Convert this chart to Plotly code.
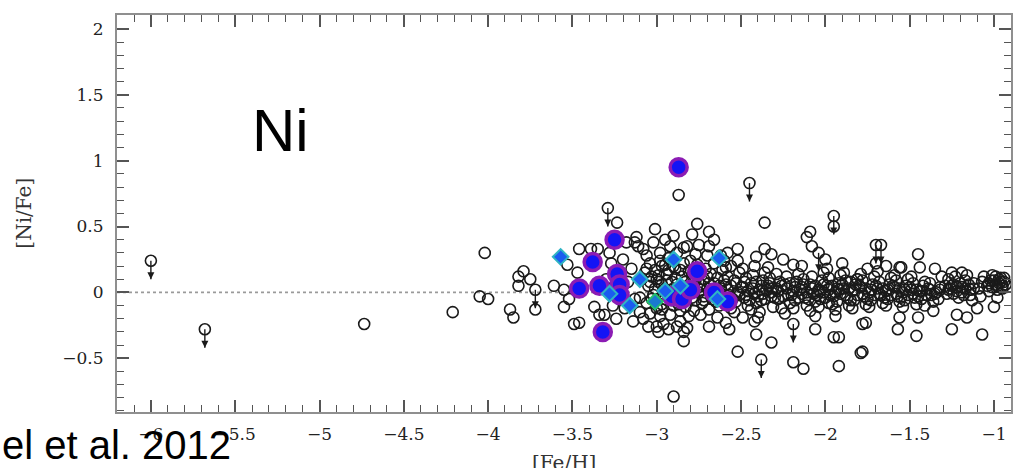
import plotly.graph_objects as go

# ---------------- data ----------------
# open black circles: [Fe/H], [Ni/Fe]
feh_open = [
    -4.735, -4.21, -4.05, -4.00, -4.02, -3.87, -3.85, -3.82, -3.79, -3.75, -3.72, -3.82,
    -3.61, -3.55, -3.55, -3.49, -3.46, -3.46, -3.39, -3.35, -3.52, -3.34, -3.31, -3.37,
    -3.08, -3.05, -2.99, -3.01, -3.235, -3.12, -3.13, -3.11, -2.87, -2.90, -3.18, -3.53, -3.47,
    -3.28, -3.27, -3.20, -3.15, -3.17, -3.13, -3.19, -3.26, -3.24, -3.14, -3.10, -3.30,
    -3.08, -3.06, -3.04, -3.07, -3.03, -3.05, -3.02, -3.06, -3.00, -3.04, -2.98, -2.97,
    -2.99, -2.96, -2.95, -2.98, -2.96, -2.94, -2.93, -2.92, -2.91, -2.90, -2.92, -2.89,
    -2.88, -2.87, -2.86, -2.85, -2.84, -2.83, -2.86, -2.95, -3.02, -2.90, -2.82, -3.00,
    -2.93, -2.88, -2.84, -3.09, -3.10, -2.97, -3.01, -2.94,
    -2.79, -2.69, -2.66, -2.75, -2.69, -2.84, -2.76, -2.52, -2.41, -2.36, -2.32, -2.25,
    -2.19, -2.14, -2.36, -2.09, -2.11, -2.08, -2.70, -2.60, -2.56, -2.58,
    -2.84, -2.52, -2.41, -2.32, -2.19, -2.13, -2.06, -1.95, -1.92, -2.69, -2.59, -2.49,
    -2.82, -2.42, -2.40, -2.01, -1.98, -1.92, -2.06, -1.94, -1.95,
    -2.83, -2.82, -2.81, -2.83, -2.80, -2.81,
    -2.78, -2.77, -2.79, -2.76, -2.78, -2.77,
    -2.74, -2.72, -2.73, -2.71, -2.74, -2.72,
    -2.69, -2.67, -2.68, -2.66, -2.69, -2.67,
    -2.64, -2.62, -2.63, -2.61, -2.64, -2.62,
    -2.59, -2.57, -2.58, -2.56, -2.59, -2.57,
    -2.54, -2.52, -2.53, -2.51, -2.54, -2.52,
    -2.49, -2.47, -2.48, -2.46, -2.49, -2.47,
    -2.44, -2.42, -2.43, -2.41, -2.44, -2.42,
    -2.39, -2.37, -2.38, -2.36, -2.39, -2.37,
    -2.34, -2.32, -2.33, -2.31, -2.34, -2.32,
    -2.29, -2.27, -2.28, -2.26, -2.29,
    -2.24, -2.22, -2.23, -2.21, -2.24,
    -2.19, -2.17, -2.18, -2.16, -2.19,
    -2.14, -2.12, -2.13, -2.11, -2.14,
    -2.09, -2.07, -2.08, -2.06, -2.09,
    -2.04, -2.02, -2.03, -2.01, -2.04,
    -1.99, -1.97, -1.98, -1.96, -1.99,
    -1.94, -1.92, -1.93, -1.91, -1.94,
    -1.89, -1.87, -1.88, -1.86, -1.89,
    -1.84, -1.82, -1.83, -1.81, -1.84,
    -1.79, -1.77, -1.78, -1.76, -1.79,
    -1.74, -1.72, -1.73, -1.71, -1.74,
    -1.69, -1.67, -1.68, -1.66, -1.69,
    -1.64, -1.62, -1.63, -1.61, -1.64,
    -1.59, -1.57, -1.58, -1.56, -1.59,
    -1.54, -1.52, -1.53, -1.51, -1.54,
    -1.49, -1.47, -1.48, -1.46, -1.49,
    -1.44, -1.42, -1.43, -1.41,
    -1.39, -1.37, -1.38, -1.36,
    -1.34, -1.32, -1.33,
    -1.29, -1.27, -1.28, -1.26,
    -1.24, -1.22, -1.23, -1.21,
    -1.19, -1.17, -1.18, -1.16,
    -1.14, -1.12, -1.13,
    -1.09, -1.07, -1.08, -1.06,
    -1.04, -1.02, -1.03, -1.01,
    -0.99, -0.97, -0.98, -0.96, -0.95, -0.94,
    -1.85, -1.81, -1.56, -1.45, -1.44, -1.41, -1.25, -1.19, -1.64, -1.55,
    -1.57, -1.46, -1.25, -1.07, -1.79, -1.78, -1.76, -1.56, -1.45, -1.36, -1.22, -1.16,
    -1.00, -1.92, -1.78, -0.98, -1.10, -1.31, -1.35, -1.70, -1.75, -2.00, -1.90,
    # dense core, second layer
    -3.04, -3.01, -2.99, -2.97, -2.96, -2.94, -2.93, -2.92, -2.91, -2.89, -2.88, -2.87,
    -2.86, -3.03, -3.00, -2.98, -2.95, -3.06, -2.90, -2.97,
    -2.80, -2.79, -2.77, -2.75, -2.74, -2.72, -2.70, -2.70, -2.68, -2.66, -2.65, -2.63,
    -2.61, -2.60, -2.58, -2.56, -2.55, -2.53, -2.51, -2.50, -2.48, -2.46, -2.45, -2.43,
    -2.41, -2.40, -2.38, -2.36, -2.35, -2.33, -2.31, -2.30,
    -2.28, -2.26, -2.25, -2.23, -2.21, -2.20, -2.18, -2.16, -2.15, -2.13, -2.11, -2.10,
    -2.08, -2.06, -2.05, -2.03, -2.01, -2.00, -1.98, -1.96, -1.95, -1.93, -1.91, -1.90,
    -1.88, -1.86, -1.85, -1.83, -1.81, -1.80, -1.78, -1.76, -1.75, -1.73, -1.71, -1.70,
    -1.68, -1.66, -1.65, -1.63, -1.61, -1.60, -1.58, -1.56, -1.55, -1.53, -1.51, -1.50,
    -1.48, -1.46, -1.45, -1.43, -1.40, -1.38, -1.35, -1.32,
    -1.27, -1.25, -1.24, -1.22, -1.20, -1.19, -1.17, -1.15, -1.14, -1.12,
    -1.03, -1.01, -1.00, -0.99, -0.98, -0.97, -0.96, -0.95, -0.94, -0.93,
]
nife_open = [
    -0.24, -0.15, -0.03, -0.05, 0.30, -0.13, -0.19, 0.05, 0.16, 0.10, -0.13, 0.12,
    0.05, 0.02, -0.11, -0.24, -0.23, 0.33, 0.33, 0.33, -0.05, -0.17, -0.17, -0.11,
    -0.20, -0.26, -0.30, 0.48, 0.53, 0.42, 0.38, 0.35, 0.74, -0.79, 0.38, 0.21, 0.15,
    0.30, 0.22, 0.25, 0.18, 0.08, -0.05, -0.12, -0.10, -0.20, -0.22, -0.15, 0.10,
    0.33, 0.28, 0.22, 0.15, 0.12, 0.05, -0.02, -0.08, -0.12, -0.16, 0.30, 0.20,
    0.08, 0.02, -0.05, -0.18, -0.24, 0.14, 0.26, 0.35, 0.08, -0.10, -0.17, 0.18,
    0.30, 0.03, -0.14, 0.12, 0.22, -0.06, -0.22, 0.40, 0.38, 0.43, 0.35, -0.26,
    -0.28, -0.26, -0.30, 0.10, -0.04, -0.09, 0.17, -0.01,
    0.44, 0.46, 0.40, 0.36, 0.35, 0.34, 0.52, 0.33, 0.27, 0.33, 0.29, 0.25,
    0.21, 0.20, 0.53, 0.46, 0.42, 0.35, 0.28, 0.24, 0.20, 0.30,
    -0.37, -0.45, -0.32, -0.38, -0.53, -0.58, -0.28, -0.34, -0.56, -0.26, -0.23, -0.19,
    -0.27, -0.22, -0.19, 0.00, -0.08, 0.02, -0.18, -0.18, 0.50,
    0.08, -0.02, 0.16, -0.11, 0.24, -0.18,
    0.05, -0.06, 0.13, 0.21, -0.14, 0.29,
    0.02, 0.10, -0.08, 0.18, -0.17, -0.03,
    0.07, -0.05, 0.14, 0.22, -0.13, 0.01,
    0.11, 0.03, -0.10, 0.17, -0.19, 0.28,
    0.06, -0.02, 0.12, -0.12, 0.19, -0.28,
    0.09, 0.00, -0.07, 0.15, -0.15, 0.24,
    0.04, 0.11, -0.04, -0.10, 0.18, -0.02,
    0.07, -0.01, 0.13, -0.08, -0.13, 0.20,
    0.02, 0.09, -0.06, 0.15, -0.15, -0.01,
    0.05, -0.03, 0.11, -0.11, 0.19, 0.00,
    0.03, 0.08, -0.05, -0.12, 0.14,
    0.06, -0.02, 0.12, -0.08, -0.16,
    0.01, 0.08, -0.06, 0.14, -0.12,
    0.04, -0.04, 0.10, -0.10, -0.01,
    0.06, -0.01, 0.12, -0.07, -0.14,
    0.02, 0.09, -0.05, 0.15, -0.11,
    0.05, -0.02, 0.11, -0.09, 0.18,
    0.00, 0.07, -0.07, 0.13, -0.13,
    0.03, -0.04, 0.09, -0.10, 0.15,
    0.01, 0.06, -0.06, 0.10, -0.12,
    0.04, -0.03, 0.09, -0.09, 0.14,
    0.00, 0.06, -0.06, 0.12, -0.11,
    0.03, -0.02, 0.08, -0.08, 0.16,
    0.01, 0.06, -0.05, 0.11, -0.10,
    0.04, -0.03, 0.09, -0.07, 0.13,
    0.00, 0.05, -0.06, 0.10, -0.11,
    0.02, -0.04, 0.07, -0.09, 0.12,
    0.01, 0.05, -0.05, -0.10,
    0.03, -0.02, 0.07, -0.07,
    0.00, 0.04, -0.05,
    0.05, 0.10, -0.01, 0.03,
    0.06, 0.01, 0.12, -0.04,
    0.04, 0.09, -0.02, 0.13,
    0.02, 0.07, -0.06,
    0.03, 0.08, -0.03, 0.12,
    0.05, 0.09, 0.01, 0.13,
    0.06, 0.10, 0.02, 0.08, 0.05, 0.11,
    0.08, 0.10, 0.19, 0.29, 0.19, 0.08, 0.15, 0.15, 0.20, 0.19,
    -0.28, -0.33, -0.28, -0.32, -0.46, -0.24, -0.23, -0.19, -0.19, -0.14, -0.17, -0.19,
    -0.11, -0.34, -0.45, -0.04, -0.12, 0.12, 0.18, 0.22, 0.18, 0.25, 0.22,
    # dense core, second layer
    0.08, 0.03, 0.13, 0.06, -0.02, 0.09, 0.17, 0.02, -0.06, 0.11, 0.06, -0.09,
    0.17, -0.05, 0.10, 0.24, 0.21, 0.18, 0.20, -0.13,
    0.04, -0.04, 0.09, 0.00, 0.06, -0.06, 0.03, 0.12, -0.02, 0.07, -0.07, 0.05,
    -0.03, 0.09, 0.02, 0.05, -0.05, 0.07, -0.02, 0.04, 0.08, 0.01, -0.06, 0.03,
    0.08, -0.03, 0.05, -0.05, 0.02, 0.07, 0.03, -0.04,
    0.01, 0.05, -0.03, 0.03, 0.07, -0.02, 0.04, -0.04, 0.02, 0.06, 0.00, -0.05,
    0.03, 0.05, -0.02, 0.01, 0.06, -0.04, 0.02, 0.05, -0.03, 0.03, -0.01, 0.06,
    -0.02, 0.03, -0.06, 0.02, -0.02, 0.05, -0.01, 0.03, -0.05, 0.02, -0.02, 0.05,
    -0.01, 0.03, -0.04, 0.02, -0.02, 0.05, -0.01, 0.03, -0.04, 0.02, -0.02, 0.04,
    -0.01, 0.02, -0.03, 0.01, -0.02, 0.02, -0.01, 0.02,
    0.02, 0.05, -0.01, 0.04, 0.07, 0.00, 0.03, 0.06, -0.02, 0.03,
    0.07, 0.04, 0.09, 0.12, 0.05, 0.07, 0.11, 0.03, 0.08, 0.06,
]

# upper limits (circle with downward arrow)
feh_lim = [-6.00, -5.68, -3.72, -3.29, -2.45, -2.38, -2.19, -2.04, -1.95, -1.70, -1.67]
nife_lim = [0.24, -0.28, 0.02, 0.64, 0.83, -0.51, -0.24, 0.30, 0.58, 0.36, 0.36]

# large filled circles (blue with purple rim)
feh_big = [-2.87, -3.25, -3.38, -3.46, -3.34, -3.235, -3.22, -3.22, -3.32, -2.91,
           -2.85, -2.76, -2.80, -2.66, -2.58]
nife_big = [0.95, 0.40, 0.23, 0.03, 0.05, 0.14, 0.06, -0.02, -0.30, -0.03,
            -0.05, 0.16, 0.02, 0.00, -0.07]

# diamonds (cyan rim, blue fill)
feh_dia = [-3.57, -3.28, -3.16, -3.10, -2.95, -2.90, -2.86, -2.63, -2.64]
nife_dia = [0.27, -0.01, -0.10, 0.10, 0.01, 0.25, 0.05, 0.26, -0.05]
feh_dia_green = [-3.01]
nife_dia_green = [-0.07]

ARROW = 0.14
X_RANGE = [-6.201, -0.899]
Y_RANGE = [-0.908, 2.106]

fig = go.Figure()

# zero reference line
fig.add_shape(type="line", xref="paper", yref="y", x0=0, x1=1, y0=0, y1=0,
              line=dict(color="#9a9a9a", width=1.6, dash="dot"), layer="below")

circle_marker = dict(symbol="circle-open", size=11, color="#1a1a1a",
                     line=dict(width=1.6, color="#1a1a1a"))

fig.add_trace(go.Scatter(x=feh_open, y=nife_open, mode="markers",
                         marker=circle_marker, hoverinfo="skip", showlegend=False))

# upper limits: circle + stem + arrowhead
fig.add_trace(go.Scatter(
    x=feh_lim, y=nife_lim, mode="markers", marker=circle_marker,
    error_y=dict(type="data", symmetric=False, array=[0] * len(nife_lim),
                 arrayminus=[ARROW] * len(nife_lim), width=0,
                 color="#1a1a1a", thickness=1.4),
    hoverinfo="skip", showlegend=False))
fig.add_trace(go.Scatter(
    x=feh_lim, y=[v - ARROW for v in nife_lim], mode="markers",
    marker=dict(symbol="arrow-down", size=7, color="#1a1a1a"),
    hoverinfo="skip", showlegend=False))

fig.add_trace(go.Scatter(x=feh_big, y=nife_big, mode="markers",
                         marker=dict(symbol="circle", size=17, color="#1414f5",
                                     line=dict(width=3.5, color="#8c1cb4")),
                         hoverinfo="skip", showlegend=False))

fig.add_trace(go.Scatter(x=feh_dia, y=nife_dia, mode="markers",
                         marker=dict(symbol="diamond", size=12, color="#1a5cf0",
                                     line=dict(width=2, color="#2fb4c4")),
                         hoverinfo="skip", showlegend=False))
fig.add_trace(go.Scatter(x=feh_dia_green, y=nife_dia_green, mode="markers",
                         marker=dict(symbol="diamond", size=12, color="#1a7ad0",
                                     line=dict(width=2, color="#22c070")),
                         hoverinfo="skip", showlegend=False))

axis_common = dict(
    showgrid=False, zeroline=False, showline=True, linecolor="#8f8f8f", linewidth=2,
    mirror="allticks", ticks="inside", ticklen=12, tickwidth=1.5, tickcolor="#555555",
    dtick=0.5, tick0=0,
    minor=dict(ticks="inside", dtick=0.1, ticklen=7, tickwidth=1.3, tickcolor="#555555"),
    tickfont=dict(family="DejaVu Serif", size=17, color="#222222"),
)

fig.update_xaxes(range=X_RANGE, ticklabelstandoff=6, **axis_common)
fig.update_yaxes(range=Y_RANGE, ticklabelstandoff=8, **axis_common)

fig.update_layout(
    width=1017, height=468,
    margin=dict(l=117, r=4, t=15, b=56),
    paper_bgcolor="white", plot_bgcolor="white",
    annotations=[
        dict(text="Ni", xref="paper", yref="paper", x=0.183, y=0.708,
             xanchor="center", yanchor="middle", showarrow=False,
             font=dict(family="Liberation Sans", size=60, color="black")),
        dict(text="[Fe/H]", xref="paper", yref="paper", x=0.5, y=-0.128,
             xanchor="center", yanchor="middle", showarrow=False,
             font=dict(family="DejaVu Serif", size=20, color="#333333")),
        dict(text="[Ni/Fe]", xref="paper", yref="paper", x=-0.105, y=0.50,
             xanchor="center", yanchor="middle", showarrow=False, textangle=-90,
             font=dict(family="DejaVu Serif", size=20, color="#333333")),
        dict(text="el et al. 2012", xref="paper", yref="paper", x=-0.1306, y=-0.083,
             xanchor="left", yanchor="middle", showarrow=False,
             font=dict(family="Liberation Sans", size=40, color="black")),
    ],
)

fig.write_html("out.html")
